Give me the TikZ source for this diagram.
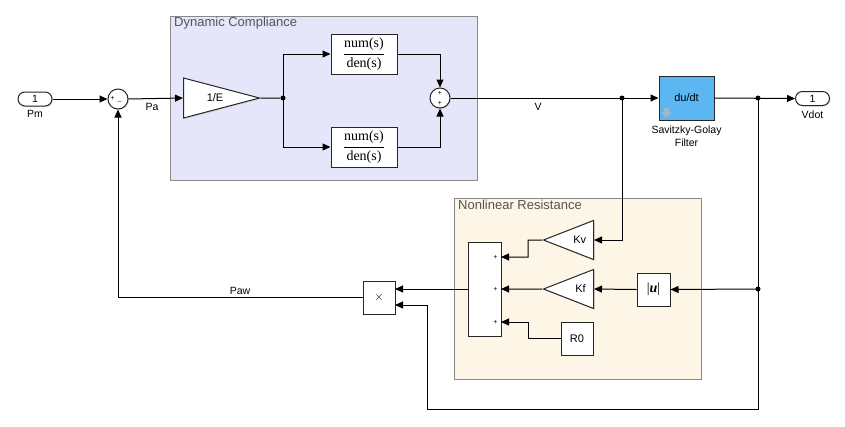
\documentclass[tikz,border=0pt]{standalone}
\usepackage{fontspec}
\setmainfont{Liberation Sans}
\newfontfamily\serifx{Liberation Serif}
\usetikzlibrary{shapes.geometric,arrows.meta,shadows}
\definecolor{dcfill}{HTML}{E6E6FA}
\definecolor{nrfill}{HTML}{FDF5E6}
\definecolor{blueblk}{HTML}{5CB6F2}
\definecolor{areaedge}{HTML}{8A8A8A}
\definecolor{areatext}{HTML}{555555}
\definecolor{iconfill}{HTML}{9FB7CC}
\tikzset{
  area/.style={draw=areaedge, line width=1pt, anchor=north west, inner sep=0pt},
  areatitle/.style={anchor=north west, text=areatext, font=\fontsize{13}{14}\selectfont, inner sep=1pt},
  blk/.style={draw=black!85, fill=white, line width=1pt, inner sep=0pt,
    drop shadow={opacity=0.25, shadow xshift=1pt, shadow yshift=-1pt}},
  tri/.style={blk, isosceles triangle, isosceles triangle stretches, font=\fontsize{11}{13}\selectfont},
  port/.style={blk, rounded corners=7pt, minimum width=34pt, minimum height=14pt, font=\fontsize{10.5}{12}\selectfont},
  sumc/.style={blk, circle, minimum size=20pt},
  wire/.style={line width=1pt, -{Triangle[length=8pt,width=7pt]}},
  plainwire/.style={line width=1pt},
  jdot/.style={circle, fill=black, inner sep=0pt, minimum size=5pt},
  sgn/.style={font=\fontsize{7}{8}\selectfont, inner sep=0pt},
  lbl/.style={font=\fontsize{10.5}{12}\selectfont, inner sep=0pt},
  tf/.style={blk, minimum width=66pt, minimum height=40pt, font=\fontsize{14}{16}\selectfont},
  sq/.style={blk, minimum width=32pt, minimum height=33pt, font=\fontsize{11}{13}\selectfont}
}
\begin{document}
\begin{tikzpicture}[x=1pt,y=-1pt]
\useasboundingbox[fill=white] (0,0) rectangle (845,426);

% areas
\node[area, fill=dcfill, minimum width=307pt, minimum height=164pt] (dc) at (170,16) {};
\node[areatitle] (dct) at (173,16) {Dynamic Compliance};
\node[area, fill=nrfill, minimum width=247pt, minimum height=181pt] (nr) at (454,198) {};
\node[areatitle] (nrt) at (457,199) {Nonlinear Resistance};

% blocks
\node[port] (pm) at (35,99) {1};
\node[lbl] (pml) at (35,114) {Pm};
\node[sumc] (s1) at (118,99) {};
\node[sgn] (s1a) at (112.5,98.5) {+};
\node[sgn] (s1b) at (119.5,101) {\_};
\node[lbl] (pal) at (152,107) {Pa};

\node[tri, minimum height=76pt, minimum width=40pt, anchor=west] (ge) at (183,98) {\hspace*{18pt}1/E};
\node[jdot] (d1) at (283,98) {};
\node[tf] (tf1) at (364,54) {\serifx$\displaystyle\frac{\mbox{num(s)}}{\mbox{den(s)}}$};
\node[tf] (tf2) at (364,147) {\serifx$\displaystyle\frac{\mbox{num(s)}}{\mbox{den(s)}}$};
\node[sumc] (s2) at (440,98) {};
\node[sgn] (s2a) at (440,93) {+};
\node[sgn] (s2b) at (440,103.5) {+};
\node[lbl] (vl) at (538,107) {V};
\node[jdot] (d2) at (622,98) {};

\node[blk, fill=blueblk, minimum width=55pt, minimum height=44pt, font=\fontsize{11}{13}\selectfont] (dv) at (686.5,98) {du/dt};
\fill[iconfill] (664,108) -- (669,108) -- (669,112) -- (672,112) -- (666.5,118) -- (661,112) -- (664,112) -- cycle;
\node[lbl, align=center, font=\fontsize{10.5}{13}\selectfont] (dvl) at (686.5,136.5) {Savitzky-Golay\\Filter};
\node[jdot] (d3) at (758,98) {};
\node[port] (vo) at (812.5,98.5) {1};
\node[lbl] (vol) at (812.5,115) {Vdot};

\node[tri, shape border rotate=180, minimum height=50pt, minimum width=39pt, anchor=east] (kv) at (594,240) {Kv};
\node[tri, shape border rotate=180, minimum height=50pt, minimum width=39pt, anchor=east] (kf) at (594,289) {Kf};
\node[sq, minimum width=33pt, font=\fontsize{14}{15}\selectfont] (au) at (653.5,289.5) {\serifx|\textbf{\textit{u}}|};
\node[jdot] (d4) at (758,289) {};
\node[blk, minimum width=33pt, minimum height=94pt] (sr) at (484.5,289) {};
\node[sgn] (sp1) at (495.5,257.5) {+};
\node[sgn] (sp2) at (495.5,289.5) {+};
\node[sgn] (sp3) at (495.5,322.5) {+};
\node[sq] (r0) at (577,338.5) {R0};
\node[sq, font=\fontsize{13}{14}\selectfont] (pr) at (379,297.5) {$\times$};
\node[lbl] (pawl) at (240,291) {Paw};

% coordinates
\coordinate (sin1) at (501,257);
\coordinate (sin2) at (501,289);
\coordinate (sin3) at (501,322);
\coordinate (kvj) at (528,240);
\coordinate (r0j) at (528,338.5);
\coordinate (pin1) at (395,289);
\coordinate (pin2) at (395,305);
\coordinate (c1) at (758,409);
\coordinate (c2) at (427,409);
\coordinate (c3) at (427,305);
\coordinate (sout) at (468,289);
\coordinate (pout) at (363,297.5);

% wires
\draw[wire] (pm.east) -- (s1.west);
\draw[wire] (s1.east) -- (ge.west);
\draw[plainwire] (ge.east) -- (d1);
\draw[wire] (d1.center) |- (tf1.west);
\draw[wire] (d1.center) |- (tf2.west);
\draw[wire] (tf1.east) -| (s2.north);
\draw[wire] (tf2.east) -| (s2.south);
\draw[wire] (s2.east) -- (dv.west);
\draw[wire] (dv.east) -- (vo.west);
\draw[wire] (d2.center) |- (kv.east);
\draw[wire] (kv.west) -- (kvj) |- (sin1);
\draw[wire] (kf.west) -- (sin2);
\draw[wire] (r0.west) -- (r0j) |- (sin3);
\draw[wire] (au.west) -- (kf.east);
\draw[wire] (d4.center) -- (au.east);
\draw[plainwire] (d3.center) -- (d4.center);
\draw[wire] (d4.center) -- (c1) -- (c2) -- (c3) -- (pin2);
\draw[wire] (sout) -- (pin1);
\draw[wire] (pout) -| (s1.south);
\end{tikzpicture}
\end{document}
